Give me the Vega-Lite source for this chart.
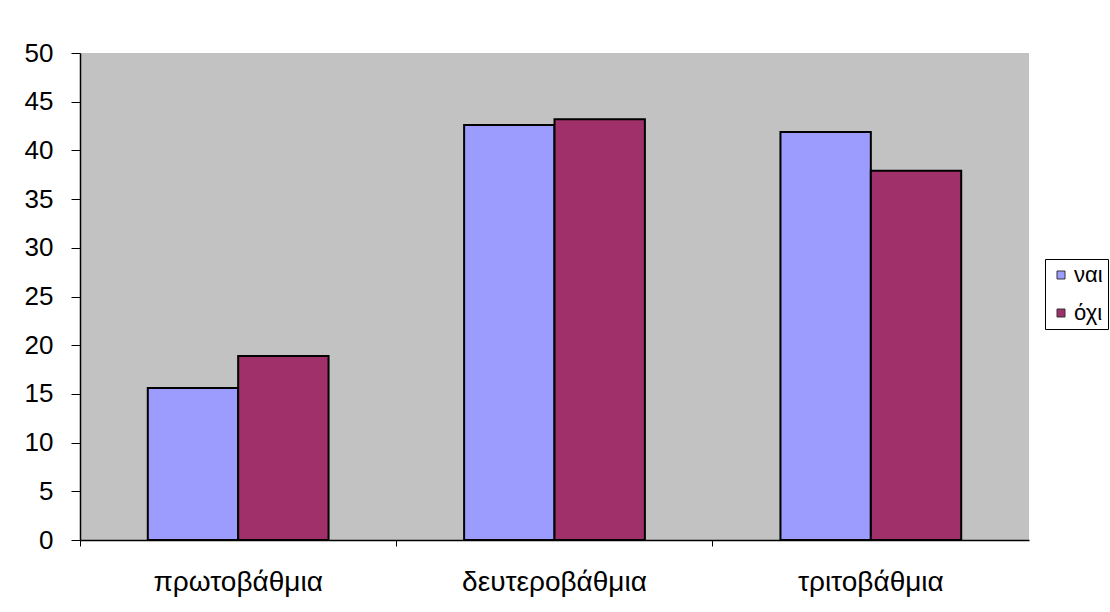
{
  "$schema": "https://vega.github.io/schema/vega-lite/v6.json",
  "autosize": "none",
  "width": 949,
  "height": 487,
  "padding": {"left": 80, "top": 53, "right": 81, "bottom": 72},
  "background": "white",
  "config": {
    "font": "Liberation Sans",
    "view": {"fill": "#C2C2C2", "stroke": null}
  },
  "data": {
    "values": [
      {"level": "πρωτοβάθμια", "answer": "ναι", "value": 15.6},
      {"level": "πρωτοβάθμια", "answer": "όχι", "value": 18.9},
      {"level": "δευτεροβάθμια", "answer": "ναι", "value": 42.6},
      {"level": "δευτεροβάθμια", "answer": "όχι", "value": 43.2},
      {"level": "τριτοβάθμια", "answer": "ναι", "value": 41.9},
      {"level": "τριτοβάθμια", "answer": "όχι", "value": 37.9}
    ]
  },
  "mark": {"type": "bar", "stroke": "black", "strokeWidth": 2},
  "encoding": {
    "x": {
      "field": "level",
      "type": "nominal",
      "sort": null,
      "scale": {"paddingInner": 0, "paddingOuter": 0},
      "axis": {
        "title": null,
        "labelAngle": 0,
        "labelFontSize": 28,
        "labelLimit": 400,
        "labelColor": "black",
        "labelPadding": 22,
        "bandPosition": 0,
        "tickSize": 6,
        "tickColor": "black",
        "domainColor": "black",
        "domainWidth": 1.5,
        "grid": false
      }
    },
    "xOffset": {
      "field": "answer",
      "type": "nominal",
      "scale": {"paddingInner": 0, "paddingOuter": 0.75}
    },
    "y": {
      "field": "value",
      "type": "quantitative",
      "scale": {"domain": [0, 50], "nice": false},
      "axis": {
        "title": null,
        "values": [0, 5, 10, 15, 20, 25, 30, 35, 40, 45, 50],
        "labelFontSize": 26,
        "labelColor": "black",
        "labelPadding": 18,
        "tickSize": 9,
        "tickColor": "black",
        "domainColor": "black",
        "domainWidth": 1.5,
        "grid": false
      }
    },
    "color": {
      "field": "answer",
      "type": "nominal",
      "scale": {"domain": ["ναι", "όχι"], "range": ["#9C9CFF", "#A0306A"]},
      "legend": {
        "title": null,
        "orient": "none",
        "legendX": 965,
        "legendY": 206,
        "direction": "vertical",
        "strokeColor": "black",
        "fillColor": "white",
        "padding": 5,
        "rowPadding": 16,
        "symbolType": "square",
        "symbolSize": 64,
        "symbolStrokeColor": "#333333",
        "symbolStrokeWidth": 1,
        "labelFontSize": 22,
        "labelColor": "black",
        "labelOffset": 2
      }
    }
  }
}
